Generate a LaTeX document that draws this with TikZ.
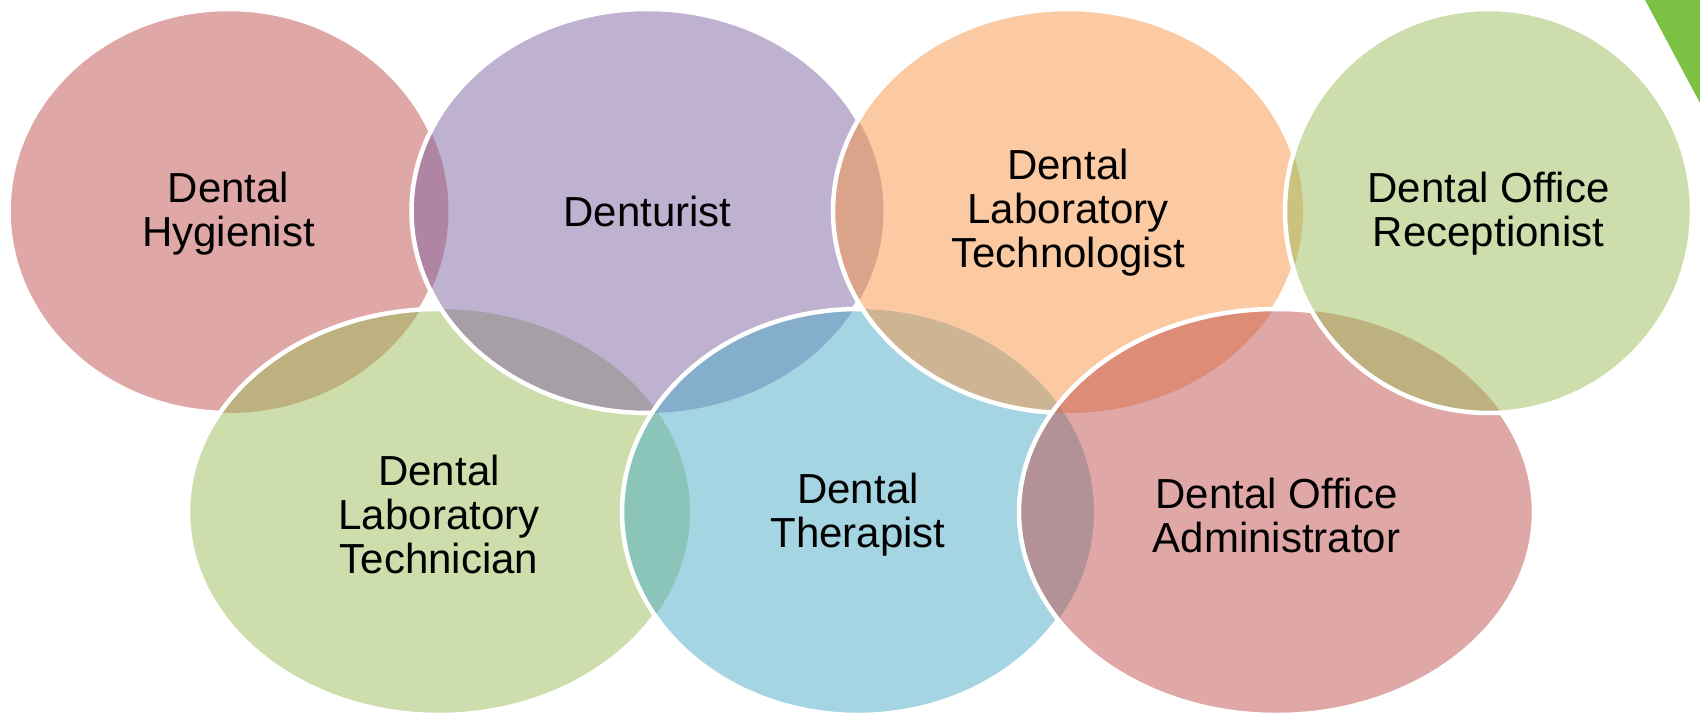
\documentclass[tikz,border=0pt]{standalone}
\usepackage{fontspec}
\setmainfont{Liberation Sans}
\definecolor{cred}{HTML}{C0504D}
\definecolor{cpur}{HTML}{8064A2}
\definecolor{cora}{HTML}{F79646}
\definecolor{cgrn}{HTML}{9BBB59}
\definecolor{cblu}{HTML}{4BACC6}
\definecolor{ctri}{RGB}{124,193,68}
\newcommand\elH{(228.5,211) ellipse [x radius=220pt, y radius=202pt]}
\newcommand\elD{(647.5,211) ellipse [x radius=236pt, y radius=202pt]}
\newcommand\elL{(1068,211) ellipse [x radius=235pt, y radius=202pt]}
\newcommand\elR{(1488.5,211) ellipse [x radius=203.5pt, y radius=202pt]}
\newcommand\elT{(439,512) ellipse [x radius=251pt, y radius=203pt]}
\newcommand\elN{(858,512) ellipse [x radius=236pt, y radius=203pt]}
\newcommand\elA{(1276.5,512) ellipse [x radius=257.5pt, y radius=203pt]}
\newcommand\outclip[1]{\clip (-20,-20) rectangle (1720,734) #1;}
\tikzset{
  blob/.style={fill opacity=0.5},
  bord/.style={draw=white, line width=4.5pt},
  lbl/.style={align=center, inner sep=0pt, text=black, font=\fontsize{42}{44}\selectfont}
}
\begin{document}
\begin{tikzpicture}[x=1pt,y=-1pt]
\useasboundingbox (0,0) rectangle (1700,714);
% fills in drawing order
\fill[blob, cred] \elH;
\fill[blob, cgrn] \elT;
\fill[blob, cpur] \elD;
\fill[blob, cblu] \elN;
\fill[blob, cora] \elL;
\fill[blob, cred] \elA;
\fill[blob, cgrn] \elR;
% white borders, each hidden under the shapes drawn after it
\begin{scope}[even odd rule]\outclip\elT\outclip\elD\outclip\elN\outclip\elL\outclip\elA\outclip\elR
\draw[bord] \elH;\end{scope}
\begin{scope}[even odd rule]\outclip\elD\outclip\elN\outclip\elL\outclip\elA\outclip\elR
\draw[bord] \elT;\end{scope}
\begin{scope}[even odd rule]\outclip\elN\outclip\elL\outclip\elA\outclip\elR
\draw[bord] \elD;\end{scope}
\begin{scope}[even odd rule]\outclip\elL\outclip\elA\outclip\elR
\draw[bord] \elN;\end{scope}
\begin{scope}[even odd rule]\outclip\elA\outclip\elR
\draw[bord] \elL;\end{scope}
\begin{scope}[even odd rule]\outclip\elR
\draw[bord] \elA;\end{scope}
\draw[bord] \elR;
% green corner triangle
\fill[ctri] (1645,0) -- (1700,0) -- (1700,103) -- cycle;
% labels
\node[lbl] (tH) at (228.5,214) {Dental\\Hygienist};
\node[lbl] (tD) at (647.5,211) {Denturist};
\node[lbl] (tL) at (1068,213) {Dental\\Laboratory\\Technologist};
\node[lbl] (tR) at (1488.5,214) {Dental Office\\Receptionist};
\node[lbl] (tT) at (439,514) {Dental\\Laboratory\\Technician};
\node[lbl] (tN) at (858,515) {Dental\\Therapist};
\node[lbl] (tA) at (1276.5,515) {Dental Office\\Administrator};
\end{tikzpicture}
\end{document}
